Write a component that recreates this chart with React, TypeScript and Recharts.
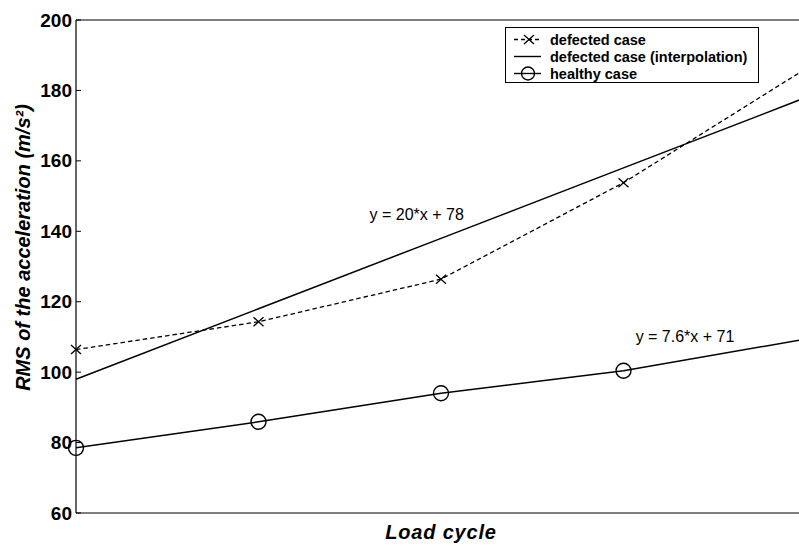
import { LineChart, Line, XAxis, YAxis, ReferenceLine, ReferenceDot, Legend } from "recharts";

// load cycles (x = 5 sits on the clipped right edge of the figure)
const loadCycles = [1, 2, 3, 4, 5];
const defectedCase = [106.4, 114.3, 126.4, 153.8, 186.2];
const defectedFit = [98, 118, 138, 158, 178];
const healthyCase = [78.5, 85.9, 94.0, 100.4, 109.4];
const yTicks = [60, 80, 100, 120, 140, 160, 180, 200];

const data = loadCycles.map((x, i) => ({
  x,
  defected: defectedCase[i],
  fit: defectedFit[i],
  healthy: healthyCase[i],
}));

const FONT = "'Liberation Sans', Arial, Helvetica, sans-serif";

const YTick = ({ x, y, payload }: any) => (
  <g>
    <line x1={x} x2={x + 5} y1={y} y2={y} stroke="#000" strokeWidth={1} />
    <text x={x - 4} y={y} textAnchor="end" dominantBaseline="central" fontSize={19} fontWeight="bold" fill="#000" fontFamily={FONT}>
      {payload.value}
    </text>
  </g>
);

const CrossDot = ({ cx, cy, index }: any) => (
  <path
    key={`x-${index}`}
    d={`M${cx - 5},${cy - 4.5}L${cx + 5},${cy + 4.5}M${cx - 5},${cy + 4.5}L${cx + 5},${cy - 4.5}`}
    stroke="#000"
    strokeWidth={1.3}
    fill="none"
  />
);

// the last marker falls outside the cropped figure, so it is not drawn
const CircleDot = ({ cx, cy, index }: any) =>
  index === loadCycles.length - 1 ? (
    <g key={`o-${index}`} />
  ) : (
    <circle key={`o-${index}`} cx={cx} cy={cy} r={7.5} stroke="#000" strokeWidth={1.4} fill="none" />
  );

const LegendIcon = ({ kind }: { kind: string }) => (
  <svg width={40} height={17} style={{ display: "block" }}>
    {kind === "defected" && (
      <>
        <line x1={8} x2={35} y1={8.5} y2={8.5} stroke="#000" strokeWidth={1.3} strokeDasharray="4 3" />
        <path d="M18,4L28,13M18,13L28,4" stroke="#000" strokeWidth={1.3} />
      </>
    )}
    {kind === "fit" && <line x1={8} x2={35} y1={8.5} y2={8.5} stroke="#000" strokeWidth={1.4} />}
    {kind === "healthy" && (
      <>
        <line x1={8} x2={35} y1={8.5} y2={8.5} stroke="#000" strokeWidth={1.4} />
        <circle cx={22} cy={8.5} r={6.5} stroke="#000" strokeWidth={1.4} fill="none" />
      </>
    )}
  </svg>
);

const BoxLegend = ({ payload }: any) => (
  <div style={{ border: "1px solid #000", background: "#fff", paddingTop: 3, width: 252, height: 51, boxSizing: "content-box" }}>
    {(payload || []).map((entry: any) => (
      <div key={entry.dataKey} style={{ display: "flex", alignItems: "center", height: 17 }}>
        <LegendIcon kind={entry.dataKey} />
        <span style={{ fontFamily: FONT, fontWeight: "bold", fontSize: 14.5, color: "#000", marginLeft: 4, whiteSpace: "nowrap" }}>
          {entry.value}
        </span>
      </div>
    ))}
  </div>
);

const XTitle = ({ viewBox }: any) => (
  <text
    x={viewBox.x + viewBox.width / 2}
    y={viewBox.y + 26}
    textAnchor="middle"
    fontSize={20}
    fontWeight="bold"
    fontStyle="italic"
    letterSpacing={0.8}
    fill="#000"
    fontFamily={FONT}
  >
    Load cycle
  </text>
);

const YTitle = ({ viewBox }: any) => {
  const cx = viewBox.x + 7;
  const cy = viewBox.y + viewBox.height / 2 - 19;
  return (
    <text
      x={cx}
      y={cy}
      transform={`rotate(-90, ${cx}, ${cy})`}
      textAnchor="middle"
      dominantBaseline="central"
      fontSize={20}
      fontWeight="bold"
      fontStyle="italic"
      fill="#000"
      fontFamily={FONT}
    >
      RMS of the acceleration (m/s²)
    </text>
  );
};

export default function App() {
  return (
    <div style={{ position: "absolute", left: 0, top: 0, width: 799, height: 550, overflow: "hidden", background: "#fff", fontFamily: FONT }}>
      <LineChart width={840} height={550} data={data} margin={{ top: 20, right: 34, left: 16, bottom: 0 }}>
        <XAxis
          dataKey="x"
          type="number"
          domain={[1, 5]}
          tick={false}
          tickLine={false}
          height={37}
          axisLine={{ stroke: "#000", strokeWidth: 1.2 }}
          label={{ content: <XTitle /> }}
        />
        <YAxis
          type="number"
          domain={[60, 200]}
          ticks={yTicks}
          interval={0}
          width={60}
          tickLine={false}
          tickSize={0}
          tickMargin={0}
          tick={<YTick />}
          axisLine={{ stroke: "#000", strokeWidth: 1.2 }}
          label={{ content: <YTitle /> }}
        />
        <ReferenceLine y={200} stroke="#000" strokeWidth={1.2} />
        <ReferenceDot
          x={2.867}
          y={144.9}
          r={0}
          fill="none"
          stroke="none"
          label={{ value: "y = 20*x + 78", position: "center", fontSize: 16, fill: "#000", fontFamily: FONT }}
        />
        <ReferenceDot
          x={4.337}
          y={110.1}
          r={0}
          fill="none"
          stroke="none"
          label={{ value: "y = 7.6*x + 71", position: "center", fontSize: 16, fill: "#000", fontFamily: FONT }}
        />
        <Line
          dataKey="defected"
          name="defected case"
          stroke="#000"
          strokeWidth={1.3}
          strokeDasharray="4.5 3"
          dot={<CrossDot />}
          activeDot={false}
          isAnimationActive={false}
        />
        <Line
          dataKey="fit"
          name="defected case (interpolation)"
          stroke="#000"
          strokeWidth={1.5}
          dot={false}
          activeDot={false}
          isAnimationActive={false}
        />
        <Line
          dataKey="healthy"
          name="healthy case"
          stroke="#000"
          strokeWidth={1.5}
          dot={<CircleDot />}
          activeDot={false}
          isAnimationActive={false}
        />
        <Legend
          layout="vertical"
          align="center"
          verticalAlign="middle"
          content={<BoxLegend />}
          wrapperStyle={{ position: "absolute", left: 505, top: 27, width: 254, height: 56 }}
        />
      </LineChart>
    </div>
  );
}
